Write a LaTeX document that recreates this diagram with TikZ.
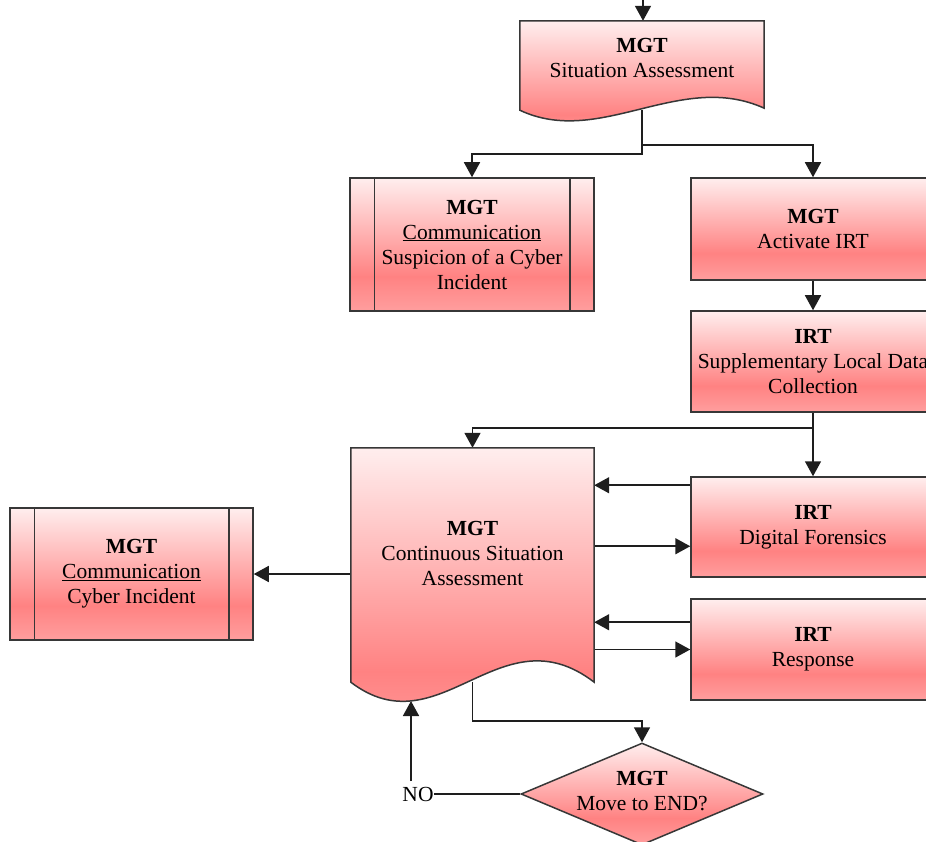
\documentclass[tikz,border=0pt]{standalone}
\usepackage{fontspec}
\setmainfont{Liberation Serif}
\usetikzlibrary{arrows.meta,shapes.geometric,calc}

\definecolor{pkTop}{RGB}{255,238,238}
\definecolor{pkMid}{RGB}{255,130,130}
\definecolor{pkBot}{RGB}{255,158,158}
\definecolor{edge}{RGB}{55,55,55}
\definecolor{wirec}{RGB}{30,30,30}
\pgfdeclareverticalshading{redfade}{100bp}{color(0bp)=(pkBot); color(25bp)=(pkBot); color(38bp)=(pkMid); color(75bp)=(pkTop); color(100bp)=(pkTop)}
\pgfdeclarelayer{bg}
\pgfsetlayers{bg,main}

\begin{document}
\begin{tikzpicture}[x=1pt,y=-1pt,
  font=\fontsize{21.5}{25}\selectfont,
  outline/.style={draw=edge,line width=1.5pt},
  fillred/.style={shading=redfade},
  procbox/.style={outline,fillred,rectangle,minimum width=244pt,minimum height=#1,inner sep=0pt,align=center},
  frame/.style={rectangle,minimum width=244pt,minimum height=#1,inner sep=0pt},
  decision/.style={outline,fillred,diamond,minimum width=242pt,minimum height=102pt,aspect=2.37,inner sep=0pt},
  label/.style={align=center,inner sep=0pt},
  wire/.style={draw=wirec,line width=1.6pt},
  arr/.style={wire,-{Triangle[length=15pt,width=16pt]}},
]
\useasboundingbox (0,0) rectangle (926,842);
\clip (0,0) rectangle (926,842);

% frames of the two document shapes (outlines drawn below)
\node[frame=89pt] (sa) at (642,65.5) {};
\node[frame=234pt,minimum width=243pt] (cont) at (472.5,565) {};

% process boxes
\node[procbox=133pt] (susp) at (472,244.5) {\textbf{MGT}\\\underline{Communication}\\Suspicion of a Cyber\\Incident};
\node[procbox=102pt] (act) at (813,229) {\textbf{MGT}\\Activate IRT};
\node[procbox=101pt] (supp) at (813,361.5) {\textbf{IRT}\\Supplementary Local Data\\Collection};
\node[procbox=100pt] (df) at (813,527) {\textbf{IRT}\\Digital Forensics};
\node[procbox=101pt] (resp) at (813,649.5) {\textbf{IRT}\\Response};
\node[procbox=132pt,minimum width=243pt] (cyb) at (131.5,574) {\textbf{MGT}\\\underline{Communication}\\Cyber Incident};

% subprocess side bars
\foreach \b in {susp,cyb}{
  \draw[outline] ([xshift=25pt]\b.north west) -- ([xshift=25pt]\b.south west);
  \draw[outline] ([xshift=-25pt]\b.north east) -- ([xshift=-25pt]\b.south east);
}

% document shapes
\path[outline,fillred] (sa.north west) -- (sa.north east) -- ([yshift=2pt]sa.south east)
  .. controls (680,70) and (600,148) .. (sa.south west) -- cycle;
\node[label] (satext) at (642,57.5) {\textbf{MGT}\\Situation Assessment};

\path[outline,fillred] (cont.north west) -- (cont.north east) -- (cont.south east)
  .. controls (500,610) and (440,750) .. (cont.south west) -- cycle;
\node[label] (conttext) at (472.5,553.5) {\textbf{MGT}\\Continuous Situation\\Assessment};

% decision
\node[decision] (dec) at (642,794) {};
\node[label] (dectext) at (642,791.5) {\textbf{MGT}\\Move to END?};
\node[label] (no) at (418,794) {NO};

% helper points
\coordinate (topin) at (643,0);
\coordinate (dfin) at ([yshift=-9pt]df.north west);
\coordinate (dfout) at ([yshift=-70pt]df.north west);
\coordinate (rsin) at ([yshift=-24pt]resp.north west);
\coordinate (nofoot) at (411,781);
\coordinate (loopin) at (411,701);

\begin{pgfonlayer}{bg}
  \draw[arr] (topin) -- (topin |- sa.north);
  \draw[arr] (sa.south) -- ++(0,44) -| (susp.north);
  \draw[arr] ([yshift=-35pt]sa.south) -| (act.north);
  \draw[arr] (act) -- (supp);
  \draw[arr] (supp.south) -- ++(0,15) -| (cont.north);
  \draw[arr] (supp.south) -- (df.north);
  \draw[arr] (dfin) -- (dfin -| cont.east);
  \draw[arr] (dfout -| cont.east) -- (dfout);
  \draw[arr] (rsin) -- (rsin -| cont.east);
  \draw[arr] (resp.west -| cont.east) -- (resp.west);
  \draw[arr] (cyb.east -| cont.west) -- (cyb.east);
  \draw[arr] (cont.south) -- ++(0,39) -| (dec.north);
  \draw[wire] (dec.west) -- (no.east);
  \draw[arr] (nofoot) -- (loopin);
\end{pgfonlayer}
\end{tikzpicture}
\end{document}
